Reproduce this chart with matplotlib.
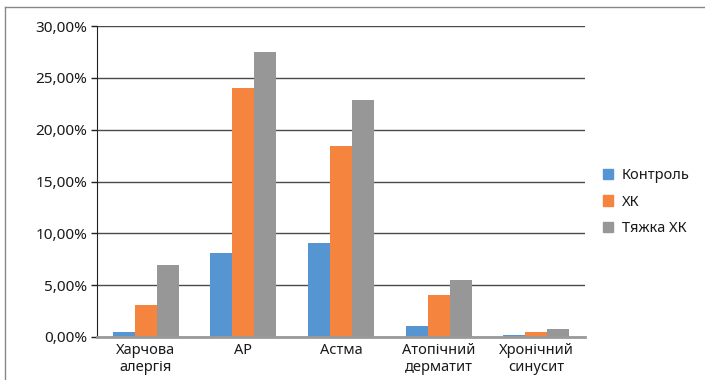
import numpy as np
import matplotlib.pyplot as plt
from matplotlib.ticker import FuncFormatter
from matplotlib.lines import Line2D

categories = ["Харчова\nалергія", "АР", "Астма", "Атопічний\nдерматит", "Хронічний\nсинусит"]
series_names = ["Контроль", "ХК", "Тяжка ХК"]
kontrol = [0.5, 8.1, 9.05, 1.05, 0.2]
hk = [3.1, 24.0, 18.4, 4.05, 0.5]
tyazhka_hk = [6.9, 27.5, 22.85, 5.5, 0.8]
colors = ["#5596D2", "#F5843F", "#979797"]

plt.rcParams['font.family'] = ['Noto Sans', 'DejaVu Sans']

fig = plt.figure(figsize=(7.05, 3.8), dpi=100)
ax = fig.add_axes([97 / 705, 1 - 337 / 380, (585 - 97) / 705, (337 - 26) / 380])

x = np.arange(len(categories))
w = 0.225
for i, (vals, name) in enumerate(zip([kontrol, hk, tyazhka_hk], series_names)):
    ax.bar(x + (i - 1) * w, vals, width=w, color=colors[i], label=name, zorder=3)

ax.set_xlim(-0.5, len(categories) - 0.5)
ax.set_ylim(0, 30)
ax.set_yticks(np.arange(0, 31, 5))
ax.yaxis.set_major_formatter(FuncFormatter(lambda v, p: f"{v:.2f}%".replace(".", ",")))
ax.set_xticks(x)
ax.set_xticklabels(categories, fontsize=10.5, color="#1a1a1a", linespacing=1.2)
ax.tick_params(axis='x', length=0, pad=4)
ax.tick_params(axis='y', length=4, width=1, color="#222222", labelsize=11, labelcolor="#1a1a1a", pad=3)

ax.grid(axis='y', color="#4a4a4a", linewidth=1, zorder=0)
for s in ["top", "right"]:
    ax.spines[s].set_visible(False)
ax.spines["left"].set_color("#222222")
ax.spines["bottom"].set_color("#9a9a9a")
ax.spines["bottom"].set_linewidth(2)
ax.spines["bottom"].set_zorder(4)

handles = [plt.Rectangle((0, 0), 1, 1, color=c) for c in colors]
fig.legend(handles, series_names, loc="center left", bbox_to_anchor=(590 / 705, 1 - 202 / 380),
           frameon=False, fontsize=10.5, handlelength=0.7, handleheight=0.7,
           handletextpad=0.6, labelspacing=0.8, labelcolor="#1a1a1a")

# outer frame lines (top and left)
fig.add_artist(Line2D([5 / 705, 1], [1 - 7 / 380, 1 - 7 / 380], color="#888888", linewidth=1))
fig.add_artist(Line2D([5 / 705, 5 / 705], [0, 1 - 7 / 380], color="#888888", linewidth=1))

fig.savefig("out.png", dpi=100)
